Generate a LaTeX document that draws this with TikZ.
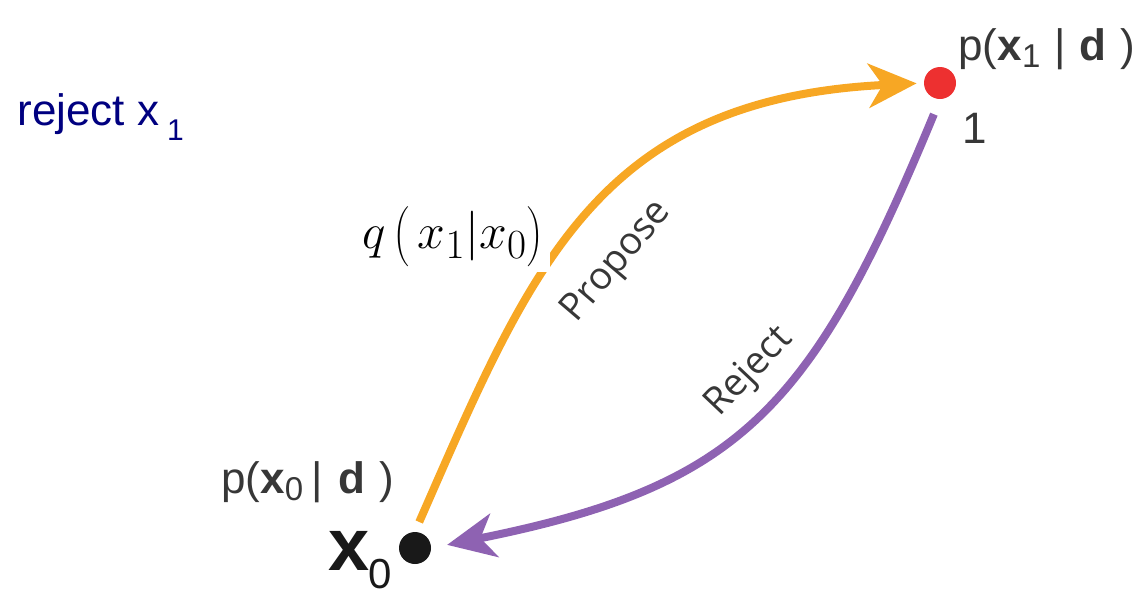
\documentclass[tikz,border=0pt]{standalone}
\usepackage{fontspec}
\setmainfont{Liberation Sans}
\newfontfamily\curvefont{Open Sans}
\usetikzlibrary{arrows.meta}

\definecolor{proporange}{RGB}{247,167,36}
\definecolor{rejpurple}{RGB}{142,98,178}
\definecolor{dotred}{RGB}{237,48,48}
\definecolor{labgray}{RGB}{55,55,55}
\definecolor{rejnavy}{RGB}{0,0,128}

\newcommand{\lsub}[1]{\raisebox{-3.5pt}{\fontsize{16.5}{16.5}\selectfont #1}}

\begin{document}
\begin{tikzpicture}[x=0.5pt, y=-0.5pt,
  dot/.style={circle, inner sep=0pt, minimum size=16pt},
  lab/.style={text=labgray, inner sep=0pt, font=\fontsize{22}{25}\selectfont},
  curvelab/.style={text=labgray, inner sep=2pt, font=\curvefont\fontsize{19}{22}\selectfont},
  flow/.style={line width=4pt, -{Stealth[length=24pt, width=22pt, inset=7pt]}},
]
  \useasboundingbox (0,0) rectangle (1138,596);

  %% states
  \node[dot, fill=dotred] (x1) at (940,83) {};
  \node[dot, fill=black!90] (x0) at (415,548) {};

  %% labels of the states
  \node[lab, anchor=base west] (px1) at (958,60)
    {p(\textbf{x}\lsub{1}\hspace{7pt}|\hspace{7pt}\textbf{d}\hspace{7pt})};
  \node[lab, anchor=base west] (one) at (962,143) {1};
  \node[lab, anchor=base west] (px0) at (221,493)
    {p(\textbf{x}\lsub{0}\hspace{4pt}|\hspace{8pt}\textbf{d}\hspace{7pt})};
  \node[anchor=base west, inner sep=0pt, text=black!90,
        font=\fontsize{37}{40}\selectfont] (xzero) at (328,570)
    {\textbf{x}\hspace{-0.5pt}\raisebox{-9pt}{\fontsize{21}{21}\selectfont 0}};
  \node[anchor=base west, inner sep=0pt, text=rejnavy,
        font=\fontsize{22}{26}\selectfont] (rejx) at (17,125)
    {reject x\hspace{4pt}\raisebox{-7.5pt}{\fontsize{15}{15}\selectfont 1}};

  %% moves
  \draw[flow, proporange, shorten <=5.25pt, shorten >=3.5pt]
    (x0.north) .. controls (531,267) and (597,99) .. (x1.west)
    node[curvelab, pos=0.47, sloped, below=13pt] (prop) {Propose};
  \draw[flow, rejpurple, shorten <=8pt, shorten >=8pt]
    (x1.south) .. controls (812,409) and (741,486) .. (x0.east)
    node[curvelab, pos=0.45, sloped, above=4pt] (rej) {Reject};

  %% proposal density
  \node[fill=white, inner sep=0pt, minimum width=97.5pt, minimum height=34.5pt,
        font=\fontsize{24.88}{28}\selectfont] (qprop) at (452.5,237.5)
    {$q\left(\vrule height 15pt depth 10pt width 0pt\,x_1|x_0\right)$};
\end{tikzpicture}
\end{document}
